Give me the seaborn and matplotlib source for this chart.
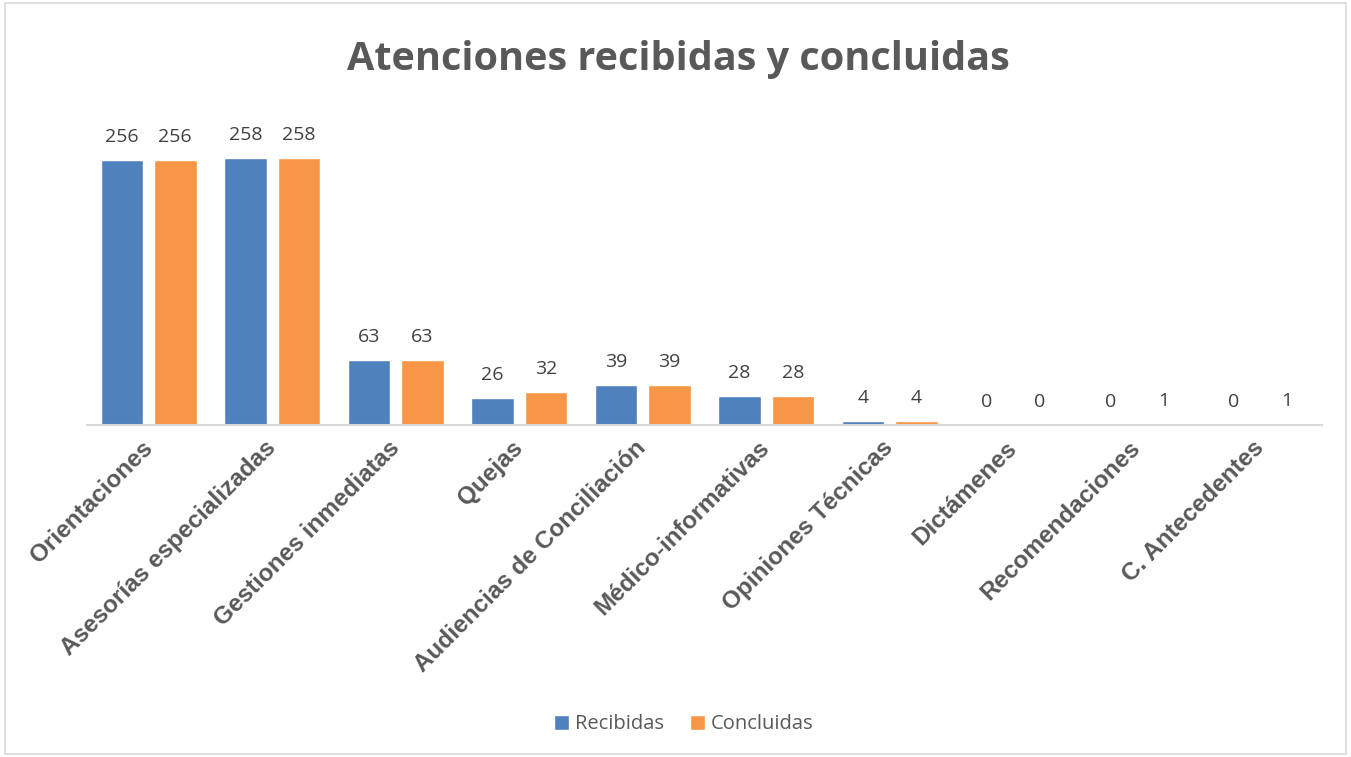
import matplotlib
matplotlib.use("Agg")
import matplotlib.pyplot as plt
import seaborn as sns
import pandas as pd
from matplotlib.patches import Rectangle

# --- data ---
categories = ["Orientaciones", "Asesorías especializadas", "Gestiones inmediatas",
              "Quejas", "Audiencias de Conciliación", "Médico-informativas",
              "Opiniones Técnicas", "Dictámenes", "Recomendaciones", "C. Antecedentes"]
recibidas = [256, 258, 63, 26, 39, 28, 4, 0, 0, 0]
concluidas = [256, 258, 63, 32, 39, 28, 4, 0, 1, 1]
series = ["Recibidas", "Concluidas"]
colors = ["#4F81BD", "#F79646"]

df = pd.DataFrame({
    "categoria": categories * 2,
    "valor": recibidas + concluidas,
    "serie": [series[0]] * len(categories) + [series[1]] * len(categories),
})

sns.set_theme(style="white")
text_gray = "#595959"

fig = plt.figure(figsize=(13.51, 7.57), dpi=100)
ax = fig.add_axes([0.0644, 0.4386, 0.9141, 0.4104])

sns.barplot(data=df, x="categoria", y="valor", hue="serie", palette=colors,
            saturation=1, width=0.86, gap=0.2, ax=ax, legend=True)

ax.set_ylim(0, 300)
ax.set_xlim(-0.5, len(categories) - 0.5)
ax.set_xlabel("")
ax.set_ylabel("")
ax.set_yticks([])
for side in ["top", "left", "right"]:
    ax.spines[side].set_visible(False)
ax.spines["bottom"].set_color("#D9D9D9")
ax.spines["bottom"].set_linewidth(1.5)
ax.tick_params(axis="x", length=0, pad=14)

# data labels
for cont in ax.containers:
    ax.bar_label(cont, labels=[f"{v:.0f}" for v in cont.datavalues], padding=10,
                 fontsize=14, color="#404040", family="Open Sans")

# rotated category labels
ax.set_xticks(range(len(categories)))
ax.set_xticklabels(categories, rotation=45, ha="right", va="center",
                   rotation_mode="anchor", fontsize=17.5, fontweight="bold",
                   color=text_gray, family="Liberation Sans")

# title
fig.text(0.502, 0.922, "Atenciones recibidas y concluidas", ha="center", va="center",
         fontsize=28.5, fontweight="bold", color=text_gray, family="Open Sans")

# legend
handles, labels = ax.get_legend_handles_labels()
ax.legend_.remove()
fig.legend(handles, labels, loc="center", bbox_to_anchor=(0.506, 0.043), ncol=2,
           frameon=False, handlelength=0.75, handleheight=0.75, handletextpad=0.3,
           columnspacing=1.3, prop={"family": "Open Sans", "size": 14.5},
           labelcolor=text_gray)

# chart border
fig.patches.append(Rectangle((0.004, 0.004), 0.992, 0.992, transform=fig.transFigure,
                             fill=False, edgecolor="#D9D9D9", linewidth=1.2))

fig.savefig("out.png", dpi=100)
